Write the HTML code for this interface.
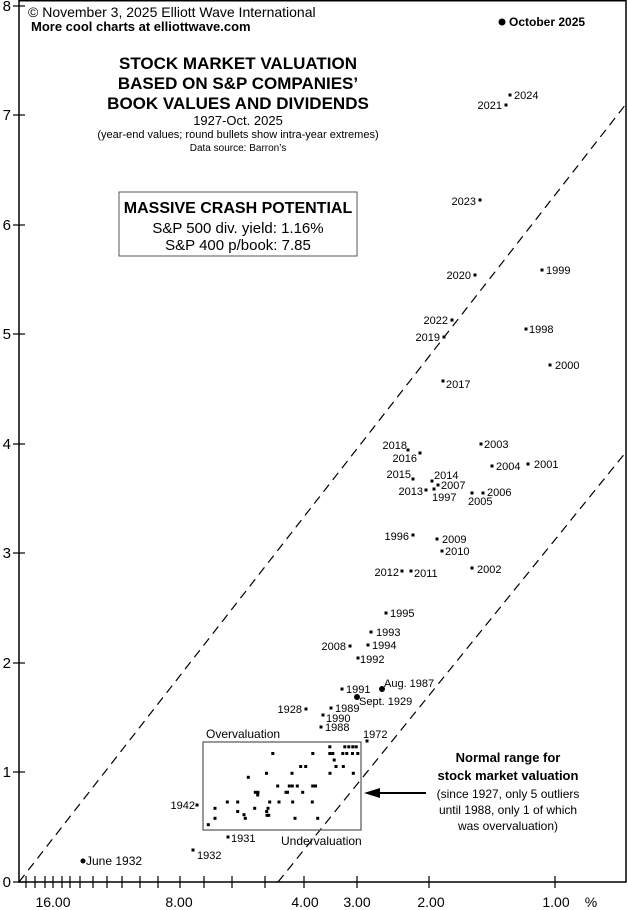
<!DOCTYPE html>
<html><head><meta charset="utf-8"><style>
html,body{margin:0;padding:0;background:#fff;}
svg{display:block;font-family:"Liberation Sans",Arial,sans-serif;}
</style></head><body>
<svg width="628" height="910" viewBox="0 0 628 910" xmlns="http://www.w3.org/2000/svg">
<rect width="628" height="910" fill="#fff"/>
<!-- frame -->
<path d="M19,0 V882 H626 V0" fill="none" stroke="#000" stroke-width="1.5"/>
<line x1="19" y1="0.8" x2="626" y2="0.8" stroke="#000" stroke-width="1.5"/>
<!-- y ticks -->
<g stroke="#000" stroke-width="1.2">
<line x1="13" y1="882" x2="25" y2="882"/><line x1="13" y1="772" x2="25" y2="772"/>
<line x1="13" y1="663" x2="25" y2="663"/><line x1="13" y1="553" x2="25" y2="553"/>
<line x1="13" y1="444" x2="25" y2="444"/><line x1="13" y1="334" x2="25" y2="334"/>
<line x1="13" y1="225" x2="25" y2="225"/><line x1="13" y1="115" x2="25" y2="115"/>
<line x1="13" y1="6" x2="25" y2="6"/>
</g>
<g font-size="15" text-anchor="end">
<text x="11" y="887">0</text><text x="11" y="777">1</text><text x="11" y="668">2</text>
<text x="11" y="558">3</text><text x="11" y="449">4</text><text x="11" y="339">5</text>
<text x="11" y="230">6</text><text x="11" y="120">7</text><text x="11" y="11">8</text>
</g>
<!-- x ticks -->
<g stroke="#000" stroke-width="1.2">
<line x1="26" y1="876" x2="26" y2="888"/><line x1="35" y1="876" x2="35" y2="888"/>
<line x1="45" y1="876" x2="45" y2="888"/><line x1="53" y1="876" x2="53" y2="888"/>
<line x1="62" y1="876" x2="62" y2="888"/><line x1="70" y1="876" x2="70" y2="888"/>
<line x1="80" y1="876" x2="80" y2="888"/><line x1="93" y1="876" x2="93" y2="888"/>
<line x1="107" y1="876" x2="107" y2="888"/><line x1="122" y1="876" x2="122" y2="888"/>
<line x1="140" y1="876" x2="140" y2="888"/><line x1="158" y1="876" x2="158" y2="888"/>
<line x1="180" y1="876" x2="180" y2="888"/><line x1="204" y1="876" x2="204" y2="888"/>
<line x1="232" y1="876" x2="232" y2="888"/><line x1="265" y1="876" x2="265" y2="888"/>
<line x1="304" y1="876" x2="304" y2="888"/><line x1="357" y1="876" x2="357" y2="888"/>
<line x1="429" y1="876" x2="429" y2="888"/><line x1="555" y1="876" x2="555" y2="888"/>
</g>
<g font-size="14" text-anchor="middle">
<text x="53" y="907">16.00</text><text x="179" y="907">8.00</text>
<text x="305" y="907">4.00</text><text x="357" y="907">3.00</text>
<text x="431" y="907">2.00</text><text x="556" y="907">1.00</text>
<text x="591" y="907">%</text>
</g>
<!-- dashed lines -->
<g stroke="#000" stroke-width="1.2" stroke-dasharray="9,6" fill="none">
<line x1="19" y1="882" x2="626" y2="104"/>
<line x1="278" y1="882" x2="626" y2="452"/>
</g>
<!-- header text -->
<text x="28" y="17" font-size="14">© November 3, 2025 Elliott Wave International</text>
<text x="31" y="31" font-size="13" font-weight="bold">More cool charts at elliottwave.com</text>
<circle cx="502" cy="22" r="3.5"/>
<text x="509" y="26" font-size="12" font-weight="bold">October 2025</text>
<g text-anchor="middle">
<text x="238" y="69" font-size="17" font-weight="bold">STOCK MARKET VALUATION</text>
<text x="238" y="89" font-size="17" font-weight="bold">BASED ON S&amp;P COMPANIES’</text>
<text x="238" y="109" font-size="17" font-weight="bold">BOOK VALUES AND DIVIDENDS</text>
<text x="238" y="125" font-size="13">1927-Oct. 2025</text>
<text x="238" y="138" font-size="11">(year-end values; round bullets show intra-year extremes)</text>
<text x="238" y="151" font-size="10">Data source: Barron’s</text>
</g>
<rect x="119" y="192" width="238" height="64" fill="none" stroke="#555" stroke-width="1"/>
<g text-anchor="middle">
<text x="238" y="213" font-size="16" font-weight="bold">MASSIVE CRASH POTENTIAL</text>
<text x="238" y="233" font-size="15">S&amp;P 500 div. yield: 1.16%</text>
<text x="238" y="250" font-size="15">S&amp;P 400 p/book: 7.85</text>
</g>
<!-- labelled points -->
<g font-size="11">
<rect x="508.5" y="93.5" width="3" height="3"/><text x="514" y="99">2024</text>
<rect x="504.5" y="103.5" width="3" height="3"/><text x="502" y="109" text-anchor="end">2021</text>
<rect x="478.5" y="198.5" width="3" height="3"/><text x="476" y="205" text-anchor="end">2023</text>
<rect x="473.5" y="273.5" width="3" height="3"/><text x="471" y="279" text-anchor="end">2020</text>
<rect x="540.5" y="268.5" width="3" height="3"/><text x="546" y="274">1999</text>
<rect x="450.5" y="318.5" width="3" height="3"/><text x="448" y="324" text-anchor="end">2022</text>
<rect x="442.5" y="335.5" width="3" height="3"/><text x="440" y="341" text-anchor="end">2019</text>
<rect x="524.5" y="327.5" width="3" height="3"/><text x="529" y="333">1998</text>
<rect x="548.5" y="363.5" width="3" height="3"/><text x="555" y="369">2000</text>
<rect x="441.5" y="379.5" width="3" height="3"/><text x="446" y="388">2017</text>
<rect x="406.5" y="448.5" width="3" height="3"/><text x="407" y="449" text-anchor="end">2018</text>
<rect x="418.5" y="451.5" width="3" height="3"/><text x="417" y="462" text-anchor="end">2016</text>
<rect x="479.5" y="442.5" width="3" height="3"/><text x="484" y="448">2003</text>
<rect x="490.5" y="464.5" width="3" height="3"/><text x="496" y="470">2004</text>
<rect x="526.5" y="462.5" width="3" height="3"/><text x="534" y="468">2001</text>
<rect x="411.5" y="477.5" width="3" height="3"/><text x="411" y="478" text-anchor="end">2015</text>
<rect x="430.5" y="479.5" width="3" height="3"/><text x="434" y="479">2014</text>
<rect x="436.5" y="483.5" width="3" height="3"/><text x="441" y="489">2007</text>
<rect x="424.5" y="488.5" width="3" height="3"/><text x="423" y="495" text-anchor="end">2013</text>
<rect x="432.5" y="487.5" width="3" height="3"/><text x="432" y="501">1997</text>
<rect x="470.5" y="491.5" width="3" height="3"/><text x="468" y="505">2005</text>
<rect x="481.5" y="491.5" width="3" height="3"/><text x="487" y="496">2006</text>
<rect x="411.5" y="533.5" width="3" height="3"/><text x="409" y="540" text-anchor="end">1996</text>
<rect x="435.5" y="537.5" width="3" height="3"/><text x="442" y="543">2009</text>
<rect x="440.5" y="549.5" width="3" height="3"/><text x="445" y="555">2010</text>
<rect x="400.5" y="569.5" width="3" height="3"/><text x="399" y="576" text-anchor="end">2012</text>
<rect x="409.5" y="569.5" width="3" height="3"/><text x="414" y="577">2011</text>
<rect x="470.5" y="566.5" width="3" height="3"/><text x="477" y="573">2002</text>
<rect x="384.5" y="611.5" width="3" height="3"/><text x="390" y="617">1995</text>
<rect x="369.5" y="630.5" width="3" height="3"/><text x="376" y="636">1993</text>
<rect x="348.5" y="644.5" width="3" height="3"/><text x="346" y="650" text-anchor="end">2008</text>
<rect x="366.5" y="643.5" width="3" height="3"/><text x="372" y="649">1994</text>
<rect x="356.5" y="656.5" width="3" height="3"/><text x="360" y="663">1992</text>
<rect x="340.5" y="687.5" width="3" height="3"/><text x="346" y="693">1991</text>
<circle cx="382" cy="689" r="3"/><text x="384" y="687">Aug. 1987</text>
<circle cx="357" cy="697" r="3"/><text x="359" y="705">Sept. 1929</text>
<rect x="304.5" y="707.5" width="3" height="3"/><text x="302" y="713" text-anchor="end">1928</text>
<rect x="329.5" y="706.5" width="3" height="3"/><text x="335" y="712">1989</text>
<rect x="321.5" y="713.5" width="3" height="3"/><text x="326" y="722">1990</text>
<rect x="319.5" y="725.5" width="3" height="3"/><text x="325" y="731">1988</text>
<rect x="365.5" y="739.5" width="3" height="3"/><text x="363" y="738">1972</text>
<rect x="195.5" y="803.5" width="3" height="3"/><text x="195" y="809" text-anchor="end">1942</text>
<rect x="226.5" y="835.5" width="3" height="3"/><text x="231" y="842">1931</text>
<rect x="191.5" y="848.5" width="3" height="3"/><text x="197" y="859">1932</text>
<circle cx="83" cy="861" r="2.5"/><text x="86" y="865" font-size="12">June 1932</text>
</g>
<!-- cluster box -->
<rect x="203" y="742" width="158" height="88" fill="none" stroke="#555" stroke-width="1.2"/>
<text x="206" y="738" font-size="12">Overvaluation</text>
<text x="281" y="845" font-size="12">Undervaluation</text>
<g>
<rect x="328.3" y="745.3" width="3" height="3"/><rect x="343.3" y="745.3" width="3" height="3"/><rect x="347.3" y="745.3" width="3" height="3"/><rect x="351.3" y="745.3" width="3" height="3"/><rect x="354.7" y="745.3" width="3" height="3"/>
<rect x="271.3" y="752" width="3" height="3"/><rect x="311.3" y="752" width="3" height="3"/><rect x="328.3" y="752" width="3" height="3"/><rect x="331.3" y="752" width="3" height="3"/><rect x="341.3" y="752" width="3" height="3"/><rect x="345.3" y="752" width="3" height="3"/><rect x="351" y="752" width="3" height="3"/><rect x="356.3" y="752" width="3" height="3"/>
<rect x="332.7" y="758.5" width="3" height="3"/>
<rect x="299.2" y="765" width="3" height="3"/><rect x="304.2" y="765" width="3" height="3"/><rect x="334.5" y="765" width="3" height="3"/><rect x="341.8" y="765" width="3" height="3"/>
<rect x="265" y="771.8" width="3" height="3"/><rect x="290.5" y="771.8" width="3" height="3"/><rect x="328.5" y="771.8" width="3" height="3"/><rect x="351.8" y="771.8" width="3" height="3"/>
<rect x="246.8" y="775.8" width="3" height="3"/>
<rect x="276.2" y="784.5" width="3" height="3"/><rect x="287.8" y="784.5" width="3" height="3"/><rect x="290.8" y="784.5" width="3" height="3"/><rect x="295.8" y="784.5" width="3" height="3"/><rect x="311.2" y="784.5" width="3" height="3"/><rect x="314" y="784.5" width="3" height="3"/>
<rect x="253.8" y="790.8" width="3" height="3"/><rect x="256.5" y="790.8" width="3" height="3"/><rect x="284.5" y="790.8" width="3" height="3"/><rect x="286" y="790.8" width="3" height="3"/><rect x="301.2" y="790.8" width="3" height="3"/>
<rect x="256.2" y="793.5" width="3" height="3"/>
<rect x="277.5" y="800.5" width="3" height="3"/><rect x="291.2" y="800.5" width="3" height="3"/><rect x="310.8" y="800.5" width="3" height="3"/><rect x="225.8" y="800.5" width="3" height="3"/><rect x="236.2" y="800.5" width="3" height="3"/><rect x="268.2" y="800.5" width="3" height="3"/>
<rect x="213.5" y="806.8" width="3" height="3"/><rect x="253.2" y="806.8" width="3" height="3"/><rect x="266.5" y="806.8" width="3" height="3"/>
<rect x="265.2" y="810" width="3" height="3"/><rect x="236.2" y="810" width="3" height="3"/>
<rect x="242.5" y="813.2" width="3" height="3"/>
<rect x="213.5" y="816.8" width="3" height="3"/><rect x="243.8" y="816.8" width="3" height="3"/><rect x="265.5" y="813.8" width="3" height="3"/><rect x="267.2" y="813.8" width="3" height="3"/><rect x="293.5" y="816.8" width="3" height="3"/><rect x="316.2" y="816.8" width="3" height="3"/>
<rect x="206.8" y="823.2" width="3" height="3"/>
</g>
<!-- annotation -->
<g text-anchor="middle">
<text x="508" y="762" font-size="13" font-weight="bold">Normal range for</text>
<text x="508" y="780" font-size="13" font-weight="bold">stock market valuation</text>
<text x="508" y="798" font-size="12">(since 1927, only 5 outliers</text>
<text x="508" y="814" font-size="12">until 1988, only 1 of which</text>
<text x="508" y="830" font-size="12">was overvaluation)</text>
</g>
<line x1="378" y1="793" x2="426" y2="793" stroke="#000" stroke-width="2"/>
<polygon points="364,793 380,788 380,798" fill="#000"/>
</svg>
</body></html>
